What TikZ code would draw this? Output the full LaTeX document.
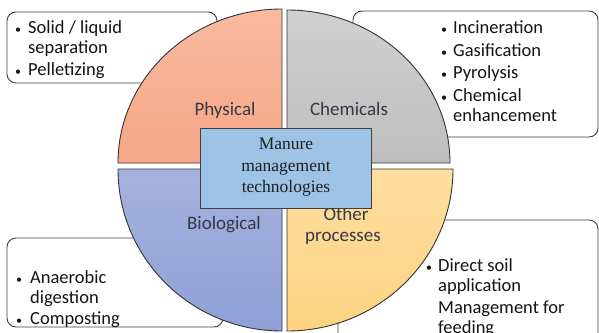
\documentclass[tikz,border=0pt]{standalone}
\usepackage{fontspec}
\setmainfont{Carlito}
\newfontfamily\serifface{Liberation Serif}
\begin{document}
\begin{tikzpicture}[x=1pt, y=-1pt,
  listbox/.style={draw=black!75, line width=0.9pt, rounded corners=9pt, fill=white},
  sector/.style={draw=black!80, line width=0.9pt},
  item/.style={anchor=base west, inner sep=0pt, font=\fontsize{18.5}{20}\selectfont, text=black!92},
  dot/.style={anchor=base west, inner sep=0pt, font=\fontsize{12}{14}\selectfont, text=black!92},
  sectorlabel/.style={anchor=base, inner sep=0pt, font=\fontsize{19}{20}\selectfont, text=labelgrey},
  hub/.style={draw=black!75, line width=0.9pt, fill=hubblue, minimum width=171pt, minimum height=80pt, inner sep=0pt},
  hubtext/.style={anchor=base, inner sep=0pt, font=\serifface\fontsize{17.5}{20}\selectfont, text=black!88}]
\definecolor{hubblue}{HTML}{9DC3E6}
\definecolor{labelgrey}{RGB}{52,57,70}
\useasboundingbox (0,0) rectangle (599,332);
\begin{scope}
\clip (0,0) rectangle (599,332);

% rounded list frames behind the disc
\draw[listbox] (7,12) rectangle (217,83);
\draw[listbox] (353,11) rectangle (598,137);
\draw[listbox] (7,238) rectangle (223,327);
\draw[listbox] (338,220) rectangle (598,345);

% four quarter sectors
\shade[sector, top color={rgb,255:red,249;green,186;blue,160}, bottom color={rgb,255:red,246;green,166;blue,134}]
  (282,163) -- (118,163) arc[start angle=180, end angle=270, x radius=164, y radius=154] -- cycle;
\shade[sector, top color={rgb,255:red,208;green,208;blue,208}, bottom color={rgb,255:red,190;green,190;blue,190}]
  (287,163) -- (287,10) arc[start angle=270, end angle=360, x radius=163, y radius=153] -- cycle;
\shade[sector, top color={rgb,255:red,166;green,178;blue,222}, bottom color={rgb,255:red,142;green,160;blue,214}]
  (282,169) -- (282,331) arc[start angle=90, end angle=180, x radius=164, y radius=162] -- cycle;
\shade[sector, top color={rgb,255:red,255;green,222;blue,160}, bottom color={rgb,255:red,253;green,210;blue,130}]
  (287,169) -- (453,169) arc[start angle=0, end angle=90, x radius=166, y radius=162] -- cycle;

% sector labels
\node[sectorlabel] (lphys) at (225,115) {Physical};
\node[sectorlabel] (lchem) at (349,115) {Chemicals};
\node[sectorlabel] (lbio) at (224,229) {Biological};
\node[sectorlabel] (lother) at (346,220) {Other};
\node[sectorlabel] (lproc) at (343,241) {processes};

% central box
\node[hub] (hub) at (285.5,168) {};
\node[hubtext] (h1) at (286,149) {Manure};
\node[hubtext] (h2) at (286,171) {management};
\node[hubtext] (h3) at (286,192) {technologies};

% physical list
\node[dot] (pb1) at (15,33) {•};
\node[item] (p1) at (28,33) {Solid / liquid};
\node[item] (p2) at (28,53) {separation};
\node[dot] (pb2) at (15,75) {•};
\node[item] (p3) at (28,75) {Pelletizing};

% chemical list
\node[dot] (cb1) at (441,33) {•};
\node[item] (c1) at (453,33) {Incineration};
\node[dot] (cb2) at (441,56) {•};
\node[item] (c2) at (453,56) {Gasification};
\node[dot] (cb3) at (441,78) {•};
\node[item] (c3) at (453,78) {Pyrolysis};
\node[dot] (cb4) at (441,101) {•};
\node[item] (c4) at (453,101) {Chemical};
\node[item] (c5) at (453,121) {enhancement};

% biological list
\node[dot] (bb1) at (16,283) {•};
\node[item] (b1) at (30,283) {Anaerobic};
\node[item] (b2) at (30,303) {digestion};
\node[dot] (bb2) at (16,324) {•};
\node[item] (b3) at (30,324) {Composting};

% other list
\node[dot] (ob1) at (426,271) {•};
\node[item] (o1) at (438,271) {Direct soil};
\node[item] (o2) at (438,291) {application};
\node[item] (o3) at (438,313) {Management for};
\node[item] (o4) at (438,333) {feeding};
\end{scope}
\end{tikzpicture}
\end{document}
